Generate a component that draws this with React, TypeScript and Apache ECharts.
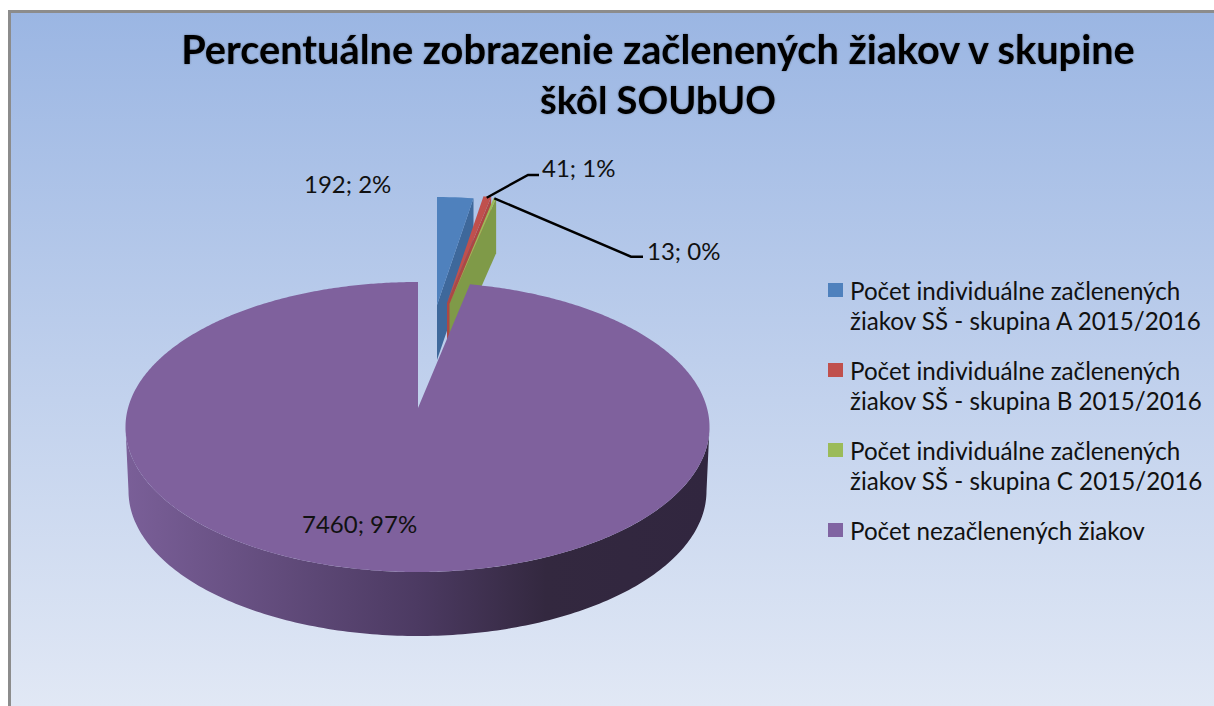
import React, { useEffect, useRef } from "react";
import * as echarts from "echarts";

const titleLines = ["Percentuálne zobrazenie začlenených žiakov v skupine", "škôl SOUbUO"];
const categories = [
  "Počet individuálne začlenených žiakov SŠ - skupina A 2015/2016",
  "Počet individuálne začlenených žiakov SŠ - skupina B 2015/2016",
  "Počet individuálne začlenených žiakov SŠ - skupina C 2015/2016",
  "Počet nezačlenených žiakov",
];
const values = [192, 41, 13, 7460];
const colors = ["#4f81bd", "#c0504d", "#9bbb59", "#8064a2"];
const topColors = ["#4f81bd", "#c0504d", "#9bbb59", "#7f619d"];
const wallColors = ["#3e689b", "#ad4744", "#7f9a48", "#4b3a60"];

const FONT = "Lato, Carlito, sans-serif";
const total = values.reduce((a, b) => a + b, 0);
const startDeg = (i: number) => (values.slice(0, i).reduce((a, b) => a + b, 0) / total) * 360;
const labelOf = (v: number) => `${v}; ${Math.round((v / total) * 100)}%`;

// Projection of the exploded slices
const wedge = { rx: 234, ry: 108, h: 55 };
const apexes = [
  [437, 305],
  [447, 303],
  [449.5, 304],
];
// Projection of the big slice
const big = { cx: 417.5, cy: 427, rx: 292, ry: 145, apexX: 418, apexY: 408, botCy: 491, botRx: 289, botRy: 145, persp: 0.9 };

const labelPos = [
  [304, 183],
  [542, 167],
  [647, 250],
  [302, 523],
];
const leaders: (number[][] | null)[] = [
  null,
  [[486.7, 197.7], [528, 175], [539, 175]],
  [[494.3, 198.3], [631, 256.7], [643, 256.7]],
  null,
];

const rad = (d: number) => (d * Math.PI) / 180;

function labelChildren(i: number, value: number) {
  const out: any[] = [
    {
      type: "text",
      x: labelPos[i][0],
      y: labelPos[i][1],
      z2: 20,
      style: { text: labelOf(value), fill: "#111", font: `24px ${FONT}`, textAlign: "left", textVerticalAlign: "middle" },
    },
  ];
  const l = leaders[i];
  if (l) out.push({ type: "polyline", z2: 19, shape: { points: l }, style: { stroke: "#000", lineWidth: 2.4, fill: "none" } });
  return out;
}

function renderWedge(i: number) {
  return (_p: any, api: any) => {
    const value = api.value(0);
    const [ax, ay] = apexes[i];
    const a0 = startDeg(i);
    const a1 = a0 + (value / total) * 360;
    const pt = (a: number, dy = 0) => [ax + wedge.rx * Math.sin(rad(a)), ay - wedge.ry * Math.cos(rad(a)) + dy];
    const top: number[][] = [[ax, ay]];
    for (let k = 0; k <= 6; k++) top.push(pt(a0 + ((a1 - a0) * k) / 6));
    const wall = [[ax, ay], pt(a1), pt(a1, wedge.h), [ax, ay + wedge.h]];
    return {
      type: "group",
      children: [
        { type: "polygon", shape: { points: wall }, style: { fill: wallColors[i] } },
        { type: "polygon", shape: { points: top }, style: { fill: topColors[i] } },
        ...labelChildren(i, value),
      ],
    };
  };
}

function renderBig(_p: any, api: any) {
  const value = api.value(0);
  const i = 3;
  const a0 = startDeg(i) * big.persp;
  const a1 = 360;
  const top: number[][] = [[big.apexX, big.apexY]];
  for (let a = a0; a < a1; a += 0.5) top.push([big.cx + big.rx * Math.sin(rad(a)), big.cy - big.ry * Math.cos(rad(a))]);
  top.push([big.apexX, big.cy - big.ry]);
  const upper: number[][] = [];
  const lower: number[][] = [];
  for (let a = 90; a <= 270; a += 1) {
    upper.push([big.cx + big.rx * Math.sin(rad(a)), big.cy - big.ry * Math.cos(rad(a))]);
    lower.push([big.cx + big.botRx * Math.sin(rad(a)), big.botCy - big.botRy * Math.cos(rad(a))]);
  }
  return {
    type: "group",
    children: [
      {
        type: "polygon",
        shape: { points: [...upper, ...lower.reverse()] },
        style: {
          fill: {
            type: "linear",
            x: 0,
            y: 0,
            x2: 1,
            y2: 0,
            colorStops: [
              { offset: 0, color: "#7a5f98" },
              { offset: 0.5, color: "#4c3a62" },
              { offset: 0.72, color: "#33283f" },
              { offset: 1, color: "#31263f" },
            ],
          },
        },
      },
      { type: "polygon", shape: { points: top }, style: { fill: topColors[i] } },
      ...labelChildren(i, value),
    ],
  };
}

const legendBreak = (name: string) => {
  const m = name.indexOf(" žiakov SŠ");
  return m > 0 ? `\n${name.slice(0, m)}\n${name.slice(m + 1)}` : name;
};
const legendTops = [245, 325, 405, 515];
const titleTops = [23, 75];
const titleSizes = [39.7, 38];

export default function App() {
  const ref = useRef<HTMLDivElement>(null);
  useEffect(() => {
    document.body.style.margin = "0";
    const chart = echarts.init(ref.current!, null, { renderer: "svg" });
    chart.setOption({
      animation: false,
      backgroundColor: "#ffffff",
      title: titleLines.map((t, i) => ({
        text: t,
        left: 653,
        top: titleTops[i],
        textAlign: "center",
        textStyle: { fontFamily: FONT, fontWeight: "bold", fontSize: titleSizes[i], color: "#000", textShadowColor: "rgba(0,0,0,0.35)", textShadowBlur: 2 },
      })),
      legend: categories.map((c, i) => ({
        data: [{ name: c, icon: "rect" }],
        left: 828,
        top: legendTops[i],
        padding: 0,
        orient: "vertical",
        itemWidth: 15,
        itemHeight: 14,
        selectedMode: false,
        formatter: legendBreak,
        textStyle: { fontFamily: FONT, fontSize: 24.2, lineHeight: 30, color: "#111", padding: [0, 0, 0, 2] },
      })),
      graphic: [
        {
          type: "rect",
          z: 0,
          shape: { x: 11, y: 13, width: 1203, height: 693 },
          style: {
            fill: {
              type: "linear",
              x: 0,
              y: 0,
              x2: 0,
              y2: 1,
              colorStops: [
                { offset: 0, color: "#9bb6e3" },
                { offset: 1, color: "#e1e8f5" },
              ],
            },
          },
        },
        { type: "rect", z: 0, shape: { x: 8, y: 10, width: 1206, height: 3 }, style: { fill: "#8c8c8c" } },
        { type: "rect", z: 0, shape: { x: 8, y: 10, width: 3, height: 696 }, style: { fill: "#8c8c8c" } },
      ],
      series: categories.map((c, i) => ({
        type: "custom",
        name: c,
        coordinateSystem: "none",
        silent: true,
        z: 2 + i,
        itemStyle: { color: colors[i] },
        data: [[values[i]]],
        renderItem: i === 3 ? renderBig : renderWedge(i),
      })),
    });
    return () => chart.dispose();
  }, []);
  return <div ref={ref} style={{ position: "absolute", left: 0, top: 0, width: 1214, height: 706 }} />;
}
